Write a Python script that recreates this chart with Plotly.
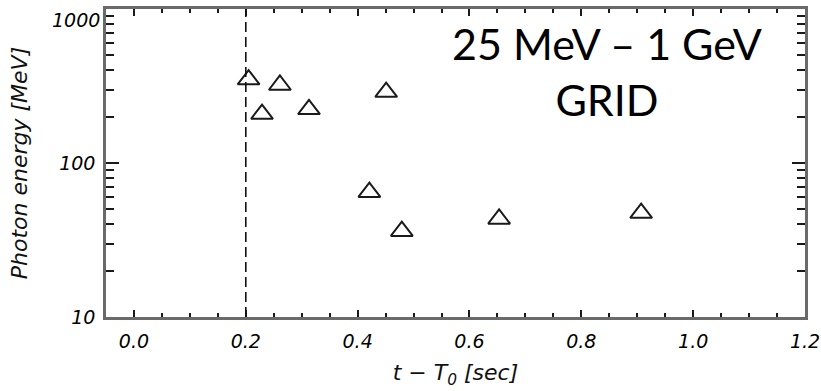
import plotly.graph_objects as go

# Arrival time after trigger (s) and photon energy (MeV) of GRID events
t_minus_t0 = [0.205, 0.229, 0.261, 0.313, 0.421, 0.451, 0.479, 0.653, 0.907]
energy_mev = [348, 208, 321, 223, 64.6, 289, 36.1, 43.3, 47.3]

# Reference time marker
t_mark = 0.2

x_range = [-0.05, 1.2]
x_ticks = [0.0, 0.2, 0.4, 0.6, 0.8, 1.0, 1.2]
x_tick_text = ["0.0", "0.2", "0.4", "0.6", "0.8", "1.0", "1.2"]
x_minor_ticks = [-0.05, 0.05, 0.1, 0.15, 0.25, 0.3, 0.35, 0.45, 0.5, 0.55,
                 0.65, 0.7, 0.75, 0.85, 0.9, 0.95, 1.05, 1.1, 1.15]
y_range_log = [1, 3]
y_ticks = [10, 100, 1000]
y_tick_text = ["10", "100", ""]   # top label is placed just under the frame below
y_top_label = "1000"
y_minor_ticks = [20, 30, 40, 50, 60, 70, 80, 90,
                 200, 300, 400, 500, 600, 700, 800, 900]

tick_font = dict(family="DejaVu Sans", size=19, color="#000000", style="italic")
title_font = dict(family="DejaVu Sans", size=22, color="#111111", style="italic")
frame_color = "#6a6a6a"
tick_color = "#1a1a1a"

fig = go.Figure()

fig.add_trace(go.Scatter(
    x=t_minus_t0,
    y=energy_mev,
    mode="markers",
    marker=dict(symbol="triangle-up", size=19, color="rgba(0,0,0,0)",
                line=dict(color="#1a1a1a", width=2)),
    showlegend=False,
    hoverinfo="x+y",
))

# Companion trace on the overlay axes that carry the minor tick marks
fig.add_trace(go.Scatter(
    x=t_minus_t0,
    y=energy_mev,
    xaxis="x2",
    yaxis="y2",
    mode="markers",
    marker=dict(opacity=0),
    showlegend=False,
    hoverinfo="skip",
))

fig.add_vline(x=t_mark, line=dict(color="#111111", width=1.6, dash="10px,5px"))

common = dict(
    ticks="inside",
    tickwidth=2,
    tickcolor=tick_color,
    showline=True,
    linecolor=frame_color,
    linewidth=2.5,
    mirror="ticks",
    showgrid=False,
    zeroline=False,
    automargin=False,
)

fig.update_layout(
    xaxis=dict(
        range=x_range,
        tickmode="array",
        tickvals=x_ticks,
        ticktext=x_tick_text,
        ticklen=7,
        tickfont=tick_font,
        ticklabelstandoff=5,
        title=dict(text="t − T<sub>0</sub> [sec]", font=title_font, standoff=15),
        **common,
    ),
    yaxis=dict(
        type="log",
        range=y_range_log,
        tickmode="array",
        tickvals=y_ticks,
        ticktext=y_tick_text,
        ticklen=13,
        tickfont=tick_font,
        ticklabelstandoff=4,
        title=dict(text="Photon energy [MeV]", font=title_font, standoff=26),
        **common,
    ),
    xaxis2=dict(
        overlaying="x",
        anchor="y2",
        side="bottom",
        range=x_range,
        tickmode="array",
        tickvals=x_minor_ticks,
        ticklen=4,
        showticklabels=False,
        **common,
    ),
    yaxis2=dict(
        overlaying="y",
        anchor="x2",
        side="left",
        type="log",
        range=y_range_log,
        tickmode="array",
        tickvals=y_minor_ticks,
        ticklen=8,
        showticklabels=False,
        **common,
    ),
)

# Top decade label, hung just below the upper frame edge
fig.add_annotation(
    text=y_top_label,
    xref="paper", yref="y",
    x=0, y=y_range_log[1],
    xanchor="right", yanchor="top",
    xshift=-4, yshift=2,
    showarrow=False,
    font=tick_font,
)

fig.add_annotation(
    text="25 MeV – 1 GeV<br>GRID",
    xref="paper", yref="paper",
    x=0.7167, y=0.797,
    xanchor="center", yanchor="middle",
    showarrow=False,
    font=dict(family="Lato", size=43, color="#000000"),
)

fig.update_layout(
    width=821,
    height=391,
    margin=dict(l=106, r=16, t=9, b=74),
    paper_bgcolor="white",
    plot_bgcolor="white",
)

fig.write_html("out.html")
